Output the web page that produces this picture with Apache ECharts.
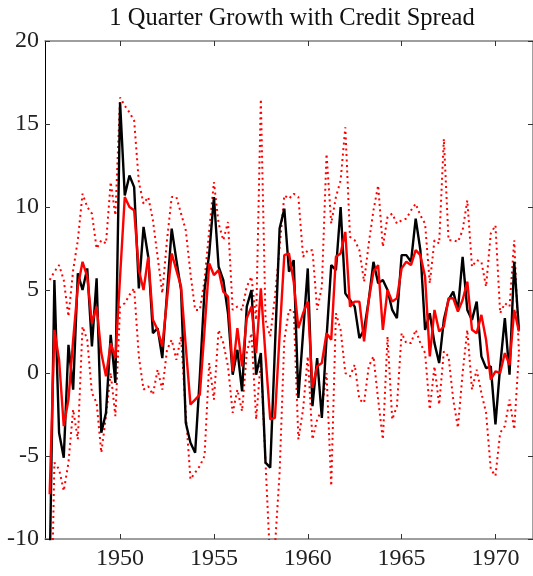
<!DOCTYPE html>
<html>
<head>
<meta charset="utf-8">
<script src="https://cdn.jsdelivr.net/npm/echarts@6/dist/echarts.min.js"></script>
<style>
html,body{margin:0;padding:0;background:#fff;}
#chart{width:533px;height:576px;}
</style>
</head>
<body>
<div id="chart"></div>
<script>
// first quarter of the sample (quarterly observations)
const startYear = 1946.25;
const xTicks = [1950, 1955, 1960, 1965, 1970];
const yTicks = [-10, -5, 0, 5, 10, 15, 20];

// actual 1-quarter growth (black) — rows: 1946 Q2..Q4, then one row per year
const actual = [
 -12, 5.6, -3.6,
 -5.1, 1.7, -1.0, 6.0,
 5.0, 6.3, 1.6, 5.7,
 -3.6, -2.4, 2.3, -0.6,
 16.3, 10.7, 11.9, 11.2,
 5.1, 8.8, 7.0, 2.4,
 2.7, 0.9, 4.8, 8.7,
 6.8, 5.0, -3.0, -4.2,
 -4.8, -0.2, 5.0, 7.2,
 10.6, 6.4, 5.6, 3.6,
 -0.1, 1.4, -1.1, 4.0,
 5.0, -0.1, 1.2, -5.4,
 -5.7, 1.5, 8.7, 9.9,
 6.1, 6.8, -1.5, 2.4,
 6.3, -2.0, 0.9, -2.7,
 2.1, 6.5, 6.2, 10.0,
 4.8, 4.4, 4.0, 2.1,
 2.6, 4.4, 6.7, 5.4,
 5.6, 5.0, 3.8, 3.3,
 7.1, 7.1, 6.7, 9.3,
 7.4, 2.6, 3.6, 1.8,
 0.6, 3.2, 4.4, 4.9,
 3.8, 7.0, 3.8, 3.2,
 4.3, 1.0, 0.3, 0.4,
 -3.1, 0.4, 3.3, -0.1,
 6.7, 2.6
];

// forecast with credit spread (red solid)
const forecast = [
 -7.3, 2.6, 0.8,
 -3.2, -1.6, 2.0, 5.2,
 6.7, 5.8, 3.0, 4.0,
 1.2, -0.2, 1.8, 0.9,
 5.8, 10.6, 10.0, 9.8,
 6.2, 5.0, 7.0, 3.2,
 2.6, 1.6, 4.4, 7.2,
 6.2, 5.2, 1.6, -1.9,
 -1.6, -1.3, 2.6, 6.6,
 5.9, 6.2, 4.9, 4.6,
 0.1, 2.7, 0.4, 3.3,
 4.0, 1.2, 5.1, 1.0,
 -2.8, -2.7, 2.3, 7.1,
 7.2, 5.5, 2.7, 3.6,
 4.3, -0.9, 0.4, 0.6,
 2.4, 2.0, 7.0, 7.2,
 8.5, 4.0, 4.3, 4.3,
 1.9, 4.4, 6.1, 6.5,
 2.6, 5.0, 4.3, 4.5,
 6.3, 6.7, 6.5, 7.4,
 7.1, 5.8, 1.0, 3.8,
 2.5, 2.8, 4.5, 4.5,
 3.7, 4.4, 5.5, 2.6,
 2.4, 3.5, 2.0, -0.4,
 0.1, 0.0, 1.2, 0.5,
 3.8, 2.5
];

// upper band (red dotted)
const upper = [
 5.6, 6.1, 6.5,
 5.6, 3.4, 6.2, 8.0,
 10.8, 10.0, 9.6, 7.5,
 8.0, 7.8, 11.5, 9.5,
 16.6, 16.1, 15.7, 15.2,
 11.5, 10.2, 10.6, 9.2,
 7.0, 4.8, 8.0, 10.6,
 10.6, 9.6, 8.6, 6.0,
 3.8, 3.8, 5.6, 8.6,
 11.5, 9.0, 8.0, 9.1,
 3.8, 4.0, 3.8, 5.2,
 5.8, 3.2, 16.5, 3.2,
 2.2, 4.6, 7.6, 10.7,
 10.5, 10.8, 10.6, 7.0,
 7.4, 7.4, 3.8, 5.2,
 13.2, 9.0, 10.6, 11.6,
 14.8, 8.2, 8.0, 7.4,
 5.5, 7.8, 9.8, 11.3,
 7.6, 9.4, 9.6, 9.0,
 9.2, 9.3, 9.8, 10.2,
 9.5, 9.0, 5.4, 8.0,
 7.8, 14.1, 8.0, 8.0,
 7.9, 8.6, 10.4, 6.4,
 6.8, 6.7, 5.2, 8.4,
 8.9, 3.6, 4.2, 4.0,
 8.0, 1.3
];

// lower band (red dotted)
const lower = [
 -20, -5.4, -5.8,
 -7.1, -5.4, -2.2, -4.0,
 2.8, 2.0, -1.2, -1.8,
 -4.8, -2.6, 0.0, -2.6,
 4.0, 4.2, 4.7, 5.1,
 1.0, -1.0, -0.8, -1.3,
 0.2, -1.0, 1.4, 2.0,
 0.8, 2.2, -2.4, -6.4,
 -6.0, -5.6, -5.0, 0.6,
 -1.6, 2.6, 1.8, 0.4,
 -2.4, -1.0, -2.3, 1.2,
 2.4, -2.8, 0.8, -5.4,
 -11.5, -10.5, -6.0, 2.0,
 3.8, 3.8, -4.0, -2.2,
 1.0, -4.0, -2.8, -2.2,
 0.0, -6.8, 3.6, 2.6,
 0.0, -0.2, 0.5, -1.6,
 -1.8, 0.4, 1.0, -1.6,
 -4.0, 2.2, -2.8, -2.0,
 2.4, 1.8, 1.8, 2.6,
 1.8, 1.2, -2.2, 0.4,
 -1.9, 1.3, 1.0, -1.6,
 -3.3, 0.0, 2.6, -1.0,
 0.2, -1.2, -2.4, -5.8,
 -6.2, -3.6, -3.2, -1.6,
 -3.4, 1.2
];

const quarters = actual.map((_, i) => startYear + i * 0.25);
const pair = arr => arr.map((v, i) => [quarters[i], v]);

const FONT = '"Liberation Serif", "Times New Roman", serif';
const chart = echarts.init(document.getElementById('chart'), null, {renderer: 'canvas'});

const axisGray = '#7f7f7f';
const baseX = {
  type: 'value', min: 1946, max: 1972,
  splitLine: {show: false},
  axisLine: {show: true, onZero: false, lineStyle: {color: axisGray, width: 1.5}},
  axisTick: {show: true, inside: true, length: 5, customValues: xTicks, lineStyle: {color: '#333', width: 1}},
  axisLabel: {show: true, customValues: xTicks, color: '#222', fontFamily: FONT, fontSize: 24, margin: 8,
    formatter: v => String(v)}
};
const baseY = {
  type: 'value', min: -10, max: 20, interval: 5,
  splitLine: {show: false},
  axisLine: {show: true, onZero: false, lineStyle: {color: '#000', width: 1}},
  axisTick: {show: true, inside: true, length: 5, lineStyle: {color: '#333', width: 1}},
  axisLabel: {show: true, color: '#222', fontFamily: FONT, fontSize: 24, margin: 6,
    formatter: v => yTicks.includes(v) ? String(v) : ''}
};

const option = {
  backgroundColor: '#fff',
  animation: false,
  title: {
    text: '1 Quarter Growth with Credit Spread',
    left: 287, top: 1, textAlign: 'center',
    textStyle: {fontFamily: FONT, fontSize: 24.5, fontWeight: 'normal', color: '#111'}
  },
  grid: {left: 45, right: -1, top: 41, bottom: 37, containLabel: false},
  xAxis: [
    baseX,
    Object.assign({}, baseX, {position: 'top', axisLabel: {show: false}})
  ],
  yAxis: [
    baseY,
    Object.assign({}, baseY, {position: 'right', axisLabel: {show: false},
      axisLine: {show: true, onZero: false, lineStyle: {color: axisGray, width: 1.5}}})
  ],
  series: [
    {name: 'upper', type: 'line', data: pair(upper), showSymbol: false, clip: true,
      lineStyle: {color: '#ff0000', width: 2, type: [2, 3.5]}, z: 2},
    {name: 'lower', type: 'line', data: pair(lower), showSymbol: false, clip: true,
      lineStyle: {color: '#ff0000', width: 2, type: [2, 3.5]}, z: 2},
    {name: 'actual', type: 'line', data: pair(actual), showSymbol: false, clip: true,
      lineStyle: {color: '#000000', width: 2.4}, z: 3},
    {name: 'forecast', type: 'line', data: pair(forecast), showSymbol: false, clip: true,
      lineStyle: {color: '#ff0000', width: 2.4}, z: 4}
  ]
};
chart.setOption(option);
</script>
</body>
</html>
